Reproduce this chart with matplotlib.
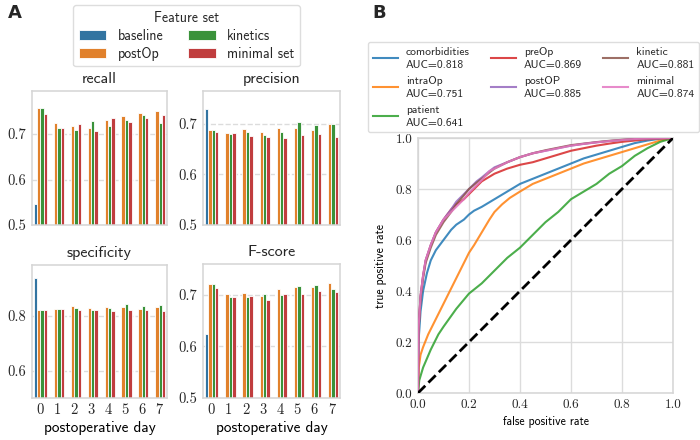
import matplotlib
matplotlib.use("Agg")
import matplotlib.pyplot as plt
from matplotlib.patches import Patch
from matplotlib.lines import Line2D
from matplotlib.ticker import FuncFormatter

# ---------------- data: panel A ----------------
days = [0, 1, 2, 3, 4, 5, 6, 7]
feature_sets = ["baseline", "postOp", "kinetics", "minimal set"]

# baseline only exists for day 0
recall_baseline = [0.547]
recall_postop = [0.757, 0.724, 0.718, 0.713, 0.730, 0.740, 0.747, 0.750]
recall_kinetics = [0.757, 0.713, 0.710, 0.729, 0.718, 0.730, 0.742, 0.725]
recall_minimal = [0.744, 0.714, 0.722, 0.707, 0.736, 0.727, 0.735, 0.742]

precision_baseline = [0.728]
precision_postop = [0.688, 0.681, 0.690, 0.683, 0.692, 0.692, 0.688, 0.699]
precision_kinetics = [0.688, 0.679, 0.683, 0.677, 0.684, 0.704, 0.698, 0.699]
precision_minimal = [0.684, 0.681, 0.675, 0.673, 0.671, 0.677, 0.679, 0.673]

specificity_baseline = [0.940]
specificity_postop = [0.824, 0.827, 0.836, 0.830, 0.834, 0.832, 0.827, 0.834]
specificity_kinetics = [0.824, 0.827, 0.830, 0.823, 0.830, 0.844, 0.836, 0.841]
specificity_minimal = [0.824, 0.827, 0.823, 0.824, 0.817, 0.823, 0.823, 0.817]

fscore_baseline = [0.624]
fscore_postop = [0.721, 0.701, 0.703, 0.697, 0.711, 0.714, 0.714, 0.723]
fscore_kinetics = [0.721, 0.695, 0.695, 0.701, 0.699, 0.716, 0.718, 0.711]
fscore_minimal = [0.712, 0.695, 0.697, 0.689, 0.702, 0.701, 0.706, 0.705]

metric_titles = ["recall", "precision", "specificity", "F-score"]

# ---------------- data: panel B (ROC curves) ----------------
roc_names = ["comorbidities", "intraOp", "patient", "preOp", "postOP", "kinetic", "minimal"]
roc_auc = [0.818, 0.751, 0.641, 0.869, 0.885, 0.881, 0.874]

comorb_fpr = [0, 0.002, 0.01, 0.02, 0.035, 0.05, 0.07, 0.1, 0.13, 0.15, 0.18, 0.2, 0.22, 0.25, 0.3,
              0.35, 0.4, 0.45, 0.5, 0.55, 0.6, 0.65, 0.7, 0.75, 0.8, 0.85, 0.9, 0.95, 1.0]
comorb_tpr = [0, 0.20, 0.32, 0.40, 0.47, 0.52, 0.56, 0.60, 0.64, 0.66, 0.68, 0.70, 0.715, 0.73, 0.76,
              0.79, 0.82, 0.84, 0.86, 0.88, 0.90, 0.92, 0.935, 0.95, 0.965, 0.98, 0.99, 0.997, 1.0]

intra_fpr = [0, 0.003, 0.01, 0.02, 0.04, 0.06, 0.08, 0.1, 0.12, 0.15, 0.18, 0.2, 0.22, 0.25, 0.28,
             0.3, 0.33, 0.36, 0.4, 0.45, 0.5, 0.55, 0.6, 0.65, 0.7, 0.75, 0.8, 0.85, 0.9, 0.95, 1.0]
intra_tpr = [0, 0.10, 0.15, 0.18, 0.23, 0.27, 0.31, 0.35, 0.39, 0.45, 0.51, 0.55, 0.58, 0.63, 0.68,
             0.71, 0.74, 0.765, 0.79, 0.82, 0.84, 0.86, 0.88, 0.90, 0.915, 0.93, 0.945, 0.96, 0.975, 0.99, 1.0]

patient_fpr = [0, 0.005, 0.02, 0.05, 0.08, 0.1, 0.15, 0.2, 0.25, 0.3, 0.35, 0.4, 0.45, 0.5, 0.55,
               0.6, 0.65, 0.7, 0.75, 0.8, 0.85, 0.9, 0.95, 1.0]
patient_tpr = [0, 0.05, 0.10, 0.17, 0.23, 0.26, 0.33, 0.39, 0.43, 0.48, 0.53, 0.57, 0.62, 0.67, 0.71,
               0.76, 0.79, 0.82, 0.86, 0.89, 0.93, 0.96, 0.985, 1.0]

preop_fpr = [0, 0.002, 0.01, 0.02, 0.03, 0.05, 0.07, 0.1, 0.13, 0.15, 0.18, 0.2, 0.23, 0.25, 0.3,
             0.35, 0.4, 0.45, 0.5, 0.55, 0.6, 0.65, 0.7, 0.75, 0.8, 0.85, 0.9, 0.95, 1.0]
preop_tpr = [0, 0.25, 0.38, 0.46, 0.52, 0.58, 0.63, 0.68, 0.72, 0.74, 0.76, 0.78, 0.81, 0.83, 0.86,
             0.88, 0.895, 0.905, 0.92, 0.935, 0.95, 0.96, 0.97, 0.978, 0.985, 0.99, 0.995, 0.998, 1.0]

postop_fpr = [0, 0.002, 0.01, 0.02, 0.03, 0.05, 0.07, 0.1, 0.13, 0.15, 0.18, 0.2, 0.23, 0.25, 0.28,
              0.3, 0.35, 0.4, 0.45, 0.5, 0.55, 0.6, 0.65, 0.7, 0.75, 0.8, 0.85, 0.9, 0.95, 1.0]
postop_tpr = [0, 0.25, 0.38, 0.46, 0.52, 0.58, 0.63, 0.68, 0.72, 0.75, 0.78, 0.80, 0.83, 0.845, 0.87,
              0.885, 0.905, 0.925, 0.94, 0.95, 0.96, 0.97, 0.977, 0.983, 0.988, 0.992, 0.996, 0.998, 0.999, 1.0]

kinetic_fpr = [0, 0.002, 0.01, 0.02, 0.03, 0.05, 0.07, 0.1, 0.13, 0.15, 0.18, 0.2, 0.23, 0.25, 0.28,
               0.3, 0.35, 0.4, 0.45, 0.5, 0.55, 0.6, 0.65, 0.7, 0.75, 0.8, 0.85, 0.9, 0.95, 1.0]
kinetic_tpr = [0, 0.24, 0.37, 0.45, 0.51, 0.57, 0.62, 0.67, 0.71, 0.74, 0.775, 0.80, 0.825, 0.84, 0.865,
               0.88, 0.905, 0.925, 0.94, 0.952, 0.962, 0.972, 0.978, 0.984, 0.989, 0.993, 0.996, 0.998, 0.999, 1.0]

minimal_fpr = [0, 0.002, 0.01, 0.02, 0.03, 0.05, 0.07, 0.1, 0.13, 0.15, 0.18, 0.2, 0.23, 0.25, 0.28,
               0.3, 0.35, 0.4, 0.45, 0.5, 0.55, 0.6, 0.65, 0.7, 0.75, 0.8, 0.85, 0.9, 0.95, 1.0]
minimal_tpr = [0, 0.25, 0.38, 0.46, 0.52, 0.58, 0.63, 0.68, 0.71, 0.73, 0.76, 0.785, 0.815, 0.835, 0.87,
               0.88, 0.905, 0.925, 0.94, 0.95, 0.96, 0.97, 0.977, 0.983, 0.988, 0.992, 0.996, 0.998, 0.999, 1.0]

# ---------------- styling ----------------
bar_colors = ["#3274a1", "#e1812c", "#3a923a", "#c03d3e"]
roc_colors = ["#1f77b4", "#ff7f0e", "#2ca02c", "#d62728", "#9467bd", "#8c564b", "#e377c2"]
SPINE = "#d5d5d5"
GRID = "#dcdcdc"
TEXT_FONT = ["cmss10", "DejaVu Sans"]
NUM_FONT = ["cmr10", "DejaVu Serif"]

plt.rcParams["font.family"] = TEXT_FONT
plt.rcParams["axes.unicode_minus"] = False
plt.rcParams["text.color"] = "#262626"

fig = plt.figure(figsize=(7, 4.4), dpi=100)
fig.patch.set_facecolor("white")


def rect(l, t, r, b):
    return [l / 700, 1 - b / 440, (r - l) / 700, (b - t) / 440]


def style_ax(ax, numsize):
    for s in ax.spines.values():
        s.set_color(SPINE)
        s.set_linewidth(1.1)
    ax.tick_params(length=0, pad=4, labelsize=numsize, colors="#262626")
    for lab in ax.get_xticklabels() + ax.get_yticklabels():
        lab.set_fontfamily(NUM_FONT)


metric_data = [
    (recall_baseline, recall_postop, recall_kinetics, recall_minimal),
    (precision_baseline, precision_postop, precision_kinetics, precision_minimal),
    (specificity_baseline, specificity_postop, specificity_kinetics, specificity_minimal),
    (fscore_baseline, fscore_postop, fscore_kinetics, fscore_minimal),
]
panel_rects = [rect(32, 91, 167, 225), rect(203, 91, 340, 225),
               rect(32, 265, 167, 398), rect(203, 264, 340, 398)]
yticks_sets = [[0.5, 0.6, 0.7], [0.5, 0.6, 0.7], [0.6, 0.8], [0.5, 0.6, 0.7]]

bw = 0.2
for k in range(4):
    ax = fig.add_axes(panel_rects[k])
    series = metric_data[k]
    vmax = 0
    for i, vals in enumerate(series):
        xs = [d + (i - 1.5) * bw for d in days[:len(vals)]]
        ax.bar(xs, vals, width=bw, color=bar_colors[i], edgecolor="white", linewidth=0.6, zorder=2)
        vmax = max(vmax, max(vals))
    ax.set_xlim(-0.5, 7.5)
    ax.set_ylim(0.5, vmax * 1.05)
    ax.set_yticks(yticks_sets[k])
    ax.yaxis.set_major_formatter(FuncFormatter(lambda v, p: f"{v:.1f}"))
    ax.set_xticks(days)
    ax.grid(axis="y", color=GRID, linestyle="--", linewidth=1.0, zorder=0)
    ax.grid(axis="x", visible=False)
    ax.set_title(metric_titles[k], fontsize=11.5, pad=6)
    if k >= 2:
        ax.set_xticklabels([str(d) for d in days])
        ax.set_xlabel("postoperative day", fontsize=11, labelpad=3)
    else:
        ax.set_xticklabels([])
    style_ax(ax, 10.5)

# legend panel A
handles_a = [Patch(facecolor=c, edgecolor="white", linewidth=0.6) for c in bar_colors]
leg_a = fig.legend(handles_a, feature_sets, ncol=2, title="Feature set", fontsize=10,
                   title_fontsize=10, loc="upper left", bbox_to_anchor=(73 / 700, 1 - 5 / 440),
                   borderaxespad=0, frameon=True, fancybox=True, edgecolor=SPINE,
                   columnspacing=1.8, handlelength=2.0, borderpad=0.4, labelspacing=0.3)

# ---------------- panel B ----------------
axr = fig.add_axes(rect(418, 138, 673, 393))
curves = [(comorb_fpr, comorb_tpr), (intra_fpr, intra_tpr), (patient_fpr, patient_tpr),
          (preop_fpr, preop_tpr), (postop_fpr, postop_tpr), (kinetic_fpr, kinetic_tpr),
          (minimal_fpr, minimal_tpr)]
roc_handles = []
for j, (fx, ty) in enumerate(curves):
    axr.plot(fx, ty, color=roc_colors[j], lw=1.5, alpha=0.85, zorder=3)
    roc_handles.append(Line2D([], [], color=roc_colors[j], lw=1.5, alpha=0.85))
axr.plot([0, 1], [0, 1], color="black", linestyle="--", lw=2, zorder=4)
axr.set_xlim(0, 1)
axr.set_ylim(0, 1)
ticks = [0, 0.2, 0.4, 0.6, 0.8, 1.0]
axr.set_xticks(ticks)
axr.set_yticks(ticks)
fmt = FuncFormatter(lambda v, p: f"{v:.1f}")
axr.xaxis.set_major_formatter(fmt)
axr.yaxis.set_major_formatter(fmt)
axr.grid(True, color=GRID, linestyle="-", linewidth=1.0, zorder=0)
axr.set_xlabel("false positive rate", fontsize=8.5, labelpad=4)
axr.set_ylabel("true positive rate", fontsize=8.5, labelpad=6)
style_ax(axr, 9.5)

roc_labels = [f"{n}\nAUC={a:.3f}" for n, a in zip(roc_names, roc_auc)]
leg_b = fig.legend(roc_handles, roc_labels, ncol=3, fontsize=8.3, loc="upper left",
                   bbox_to_anchor=(368 / 700, 1 - 42 / 440), borderaxespad=0, frameon=True,
                   fancybox=True, edgecolor=SPINE, columnspacing=1.8, handlelength=2.2,
                   handletextpad=0.7, labelspacing=0.5, borderpad=0.4)
for t in leg_b.get_texts():
    t.set_linespacing(1.4)

# panel letters
fig.text(8 / 700, 1 - 13 / 440, "A", fontsize=13, fontweight="bold", family="DejaVu Sans", va="center")
fig.text(372 / 700, 1 - 13 / 440, "B", fontsize=13, fontweight="bold", family="DejaVu Sans", va="center")

fig.savefig("out.png", dpi=100, facecolor="white")
